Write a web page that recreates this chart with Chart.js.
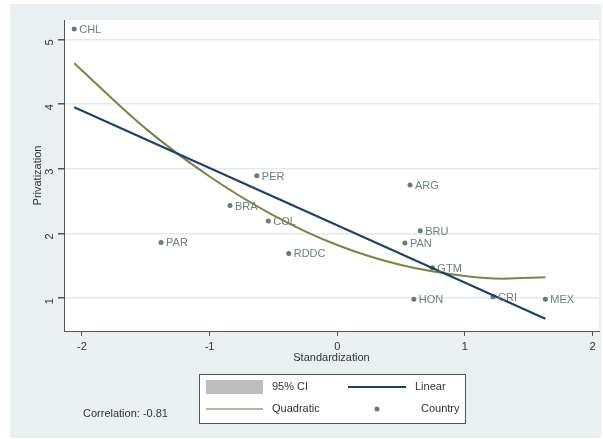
<!DOCTYPE html>
<html>
<head>
<meta charset="utf-8">
<script src="https://cdn.jsdelivr.net/npm/chart.js@4"></script>
<style>
  html, body { margin:0; padding:0; background:#fff; }
  #wrap { width:603px; height:439px; }
</style>
</head>
<body>
<div id="wrap"><canvas id="c" width="603" height="439"></canvas></div>
<script>
// data
const countries = ['CHL','PER','BRA','COL','RDDC','PAR','ARG','BRU','PAN','GTM','HON','CRI','MEX'];
const standardization = [-2.06,-0.63,-0.84,-0.54,-0.38,-1.38,0.57,0.65,0.53,0.745,0.60,1.22,1.63];
const privatization = [5.16,2.89,2.43,2.19,1.69,1.86,2.75,2.04,1.85,1.47,0.98,1.02,0.98];
const linearX = [-2.06, 1.63];
const linearY = [3.95, 0.68];
const quadX = [-2.06,-1.5,-1.0,-0.5,0,0.5,1.0,1.3,1.63];
const quadY = [4.63,3.62,2.88,2.28,1.82,1.51,1.34,1.30,1.32];
const xTicks = [-2,-1,0,1,2];
const yTicks = [1,2,3,4,5];
const correlation = 'Correlation: -0.81';

const navy = '#1c3f6e', olive = '#7a8640', dotCol = '#687a72', labCol = '#6f8078';
const font = 'Liberation Sans, Arial, sans-serif';
const pts = (xs, ys) => xs.map((x,i)=>({x, y: ys[i]}));

const bgPlugin = {
  id:'bg',
  beforeDraw(chart){
    const c = chart.ctx, a = chart.chartArea;
    c.save();
    c.fillStyle = '#fff'; c.fillRect(0,0,chart.width,chart.height);
    c.fillStyle = '#eaf0f2'; c.fillRect(10,4,591,434);
    c.fillStyle = '#fff'; c.fillRect(a.left,a.top,a.right-a.left,a.bottom-a.top);
    c.restore();
  }
};

const labelPlugin = {
  id:'labels',
  afterDatasetsDraw(chart){
    const c = chart.ctx, meta = chart.getDatasetMeta(2);
    c.save();
    c.font = '11px ' + font; c.fillStyle = labCol; c.textBaseline = 'middle';
    meta.data.forEach((p,i)=>{ c.fillText(countries[i], p.x + 5, p.y + 1); });
    c.restore();
  }
};

const legendPlugin = {
  id:'legendBox',
  afterDraw(chart){
    const c = chart.ctx;
    c.save();
    c.fillStyle = '#fff'; c.fillRect(199,374,266,49);
    c.strokeStyle = '#555'; c.lineWidth = 1; c.strokeRect(199.5,374.5,266,49);
    c.fillStyle = '#bdbdbd'; c.fillRect(206,380,57,14);
    c.lineWidth = 2;
    c.strokeStyle = navy; c.beginPath(); c.moveTo(348,387); c.lineTo(406,387); c.stroke();
    c.strokeStyle = '#b8b99a'; c.beginPath(); c.moveTo(206,409); c.lineTo(263,409); c.stroke();
    c.fillStyle = dotCol; c.beginPath(); c.arc(377,409,2.5,0,Math.PI*2); c.fill();
    c.font = '11px ' + font; c.fillStyle = '#333'; c.textBaseline = 'middle';
    c.fillText('95% CI', 272, 387);
    c.fillText('Linear', 415, 387);
    c.fillText('Quadratic', 272, 409);
    c.fillText('Country', 421, 409);
    c.fillText(correlation, 83, 414);
    c.restore();
  }
};

new Chart(document.getElementById('c'), {
  type:'scatter',
  data:{ datasets:[
    { label:'Linear', data: pts(linearX, linearY), showLine:true, borderColor:navy, borderWidth:2, pointRadius:0 },
    { label:'Quadratic', data: pts(quadX, quadY), showLine:true, borderColor:olive, borderWidth:2, pointRadius:0, cubicInterpolationMode:'monotone' },
    { label:'Country', data: pts(standardization, privatization), backgroundColor:dotCol, borderColor:dotCol, pointRadius:2.5, borderWidth:0 }
  ]},
  options:{
    responsive:false, animation:false,
    layout:{ padding:{ left:31, top:20, right:4, bottom:74 } },
    plugins:{ legend:{ display:false }, tooltip:{ enabled:false } },
    scales:{
      x:{
        type:'linear', min:-2.14, max:2.05,
        afterBuildTicks(s){ s.ticks = xTicks.map(v=>({value:v})); },
        afterFit(s){ s.height = 34; },
        grid:{ drawOnChartArea:false, drawTicks:true, tickLength:5, tickColor:'#555' },
        border:{ color:'#555', width:1 },
        ticks:{ font:{ family:font, size:11 }, color:'#333', padding:4, maxRotation:0 },
        title:{ display:true, text:'Standardization', font:{ family:font, size:11 }, color:'#333', padding:{top:0,bottom:0} }
      },
      y:{
        type:'linear', min:0.49, max:5.30,
        afterBuildTicks(s){ s.ticks = yTicks.map(v=>({value:v})); },
        afterFit(s){ s.width = 33; },
        grid:{ drawOnChartArea:true, color:'#e4eaec', lineWidth:1.5, drawTicks:true, tickLength:6, tickColor:'#555' },
        border:{ color:'#555', width:1 },
        ticks:{ font:{ family:font, size:11 }, color:'#333', padding:8, minRotation:90, maxRotation:90 },
        title:{ display:true, text:'Privatization', font:{ family:font, size:11 }, color:'#333', padding:{top:0,bottom:0} }
      }
    }
  },
  plugins:[bgPlugin, labelPlugin, legendPlugin]
});
</script>
</body>
</html>
